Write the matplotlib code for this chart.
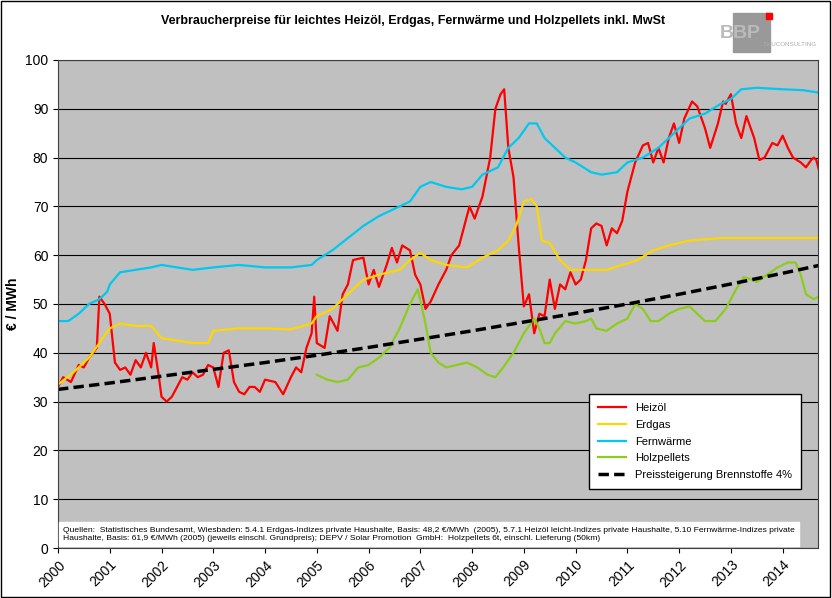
import matplotlib
matplotlib.use("Agg")
import matplotlib.pyplot as plt
from matplotlib.patches import Rectangle

plt.rcParams["font.family"] = "Liberation Sans"

heiz_x = [2000,2000.1,2000.25,2000.4,2000.5,2000.6,2000.75,2000.8,2000.9,2001.0,2001.1,2001.2,2001.3,2001.4,2001.5,2001.6,2001.7,2001.8,2001.85,2001.95,2002.0,2002.1,2002.2,2002.3,2002.4,2002.5,2002.6,2002.7,2002.8,2002.9,2003.0,2003.1,2003.2,2003.3,2003.4,2003.5,2003.6,2003.7,2003.8,2003.9,2004.0,2004.2,2004.35,2004.5,2004.6,2004.7,2004.8,2004.9,2004.95,2005.0,2005.15,2005.25,2005.4,2005.5,2005.6,2005.7,2005.9,2006.0,2006.1,2006.2,2006.35,2006.45,2006.55,2006.65,2006.8,2006.9,2007.0,2007.1,2007.2,2007.35,2007.5,2007.6,2007.75,2007.85,2007.95,2008.05,2008.2,2008.35,2008.45,2008.55,2008.62,2008.7,2008.8,2008.9,2009.0,2009.1,2009.2,2009.3,2009.4,2009.5,2009.6,2009.7,2009.8,2009.9,2010.0,2010.1,2010.2,2010.3,2010.4,2010.5,2010.6,2010.7,2010.8,2010.9,2011.0,2011.15,2011.3,2011.4,2011.5,2011.6,2011.7,2011.8,2011.9,2012.0,2012.1,2012.25,2012.35,2012.5,2012.6,2012.75,2012.85,2012.9,2013.0,2013.1,2013.2,2013.3,2013.45,2013.55,2013.65,2013.8,2013.9,2014.0,2014.1,2014.2,2014.35,2014.45,2014.55,2014.6,2014.65,2014.7]
heiz_y = [33,35,34,37.5,37,39,41,51.5,50,48,38,36.5,37,35.5,38.5,37,40,37,42,35,31,30,31,33,35,34.5,36,35,35.5,37.5,37,33,40,40.5,34,32,31.5,33,33,32,34.5,34,31.5,35,37,36,41,44,51.5,42,41,47.5,44.5,52,54,59,59.5,54,57,53.5,58,61.5,58.5,62,61,56,54,49,50.5,54,57,60,62,66,70,67.5,72,80,90,93,94,82,76,62,49.5,52,44,48,47.5,55,49,54,53,56.5,54,55,59,65.5,66.5,66,62,65.5,64.5,67,73,79,82.5,83,79,82,79,84,87,83,88,91.5,90.5,86,82,87,91.5,91,93,87,84,88.5,84,79.5,80,83,82.5,84.5,82,80,79,78,79.5,80,79.5,77.5]

gas_x = [2000,2000.3,2000.6,2000.8,2001.0,2001.2,2001.5,2001.8,2002.0,2002.3,2002.6,2002.9,2003.0,2003.5,2004.0,2004.5,2004.9,2005.0,2005.3,2005.6,2005.9,2006.2,2006.6,2006.8,2007.0,2007.2,2007.5,2007.9,2008.2,2008.5,2008.7,2008.85,2009.0,2009.15,2009.25,2009.35,2009.5,2009.7,2009.9,2010.3,2010.6,2010.9,2011.2,2011.5,2011.8,2012.2,2012.8,2013.5,2014.7]
gas_y = [33.5,36,39,42,45,46,45.5,45.5,43,42.5,42,42,44.5,45,45,44.8,46,47.5,49,52,55,56,57,59,60.5,59,58,57.5,59.5,61,63,66,71,71.5,70,63,62.5,59,57,57,57,58,59,61,62,63,63.5,63.5,63.5]

fern_x = [2000,2000.2,2000.4,2000.6,2000.8,2000.95,2001.0,2001.2,2001.5,2001.8,2002.0,2002.3,2002.6,2003.0,2003.5,2004.0,2004.5,2004.9,2005.0,2005.3,2005.6,2005.9,2006.2,2006.5,2006.8,2007.0,2007.2,2007.5,2007.8,2008.0,2008.2,2008.5,2008.7,2008.9,2009.1,2009.25,2009.4,2009.6,2009.8,2010.0,2010.3,2010.5,2010.8,2011.0,2011.3,2011.6,2011.9,2012.2,2012.5,2012.8,2013.0,2013.2,2013.5,2014.0,2014.4,2014.7]
fern_y = [46.5,46.5,48,50,51,52.5,54,56.5,57,57.5,58,57.5,57,57.5,58,57.5,57.5,58,59,61,63.5,66,68,69.5,71,74,75,74,73.5,74,76.5,78,82,84,87,87,84,82,80,79,77,76.5,77,79,80,82,85,88,89,91,92,94,94.3,94,93.8,93.3]

holz_x = [2005.0,2005.2,2005.4,2005.6,2005.8,2006.0,2006.2,2006.4,2006.6,2006.8,2006.95,2007.1,2007.2,2007.35,2007.5,2007.7,2007.9,2008.1,2008.3,2008.45,2008.6,2008.8,2009.0,2009.2,2009.3,2009.4,2009.5,2009.6,2009.8,2010.0,2010.2,2010.3,2010.4,2010.6,2010.8,2011.0,2011.15,2011.3,2011.45,2011.6,2011.8,2012.0,2012.2,2012.35,2012.5,2012.7,2012.9,2013.1,2013.25,2013.4,2013.5,2013.7,2013.9,2014.1,2014.25,2014.35,2014.45,2014.6,2014.7]
holz_y = [35.5,34.5,34,34.5,37,37.5,39,41,45,50,53,46,40,38,37,37.5,38,37,35.5,35,37,40,44,47,45,42,42,44,46.5,46,46.5,47,45,44.5,46,47,50,49,46.5,46.5,48,49,49.5,48,46.5,46.5,49,53,55.5,55,54.5,56,57.5,58.5,58.5,56,52,51,51.5]

trend_x = [2000,2001,2002,2003,2004,2005,2006,2007,2008,2009,2010,2011,2012,2013,2014,2014.7]
trend_y = [32.5,33.8,35.2,36.6,38.0,39.5,41.1,42.8,44.5,46.3,48.1,50.0,52.0,54.1,56.3,57.9]

years = list(range(2000, 2015))
year_labels = [str(y) for y in years]

fig = plt.figure(figsize=(8.32, 5.98), dpi=100)
fig.patch.set_facecolor("white")
fig.patches.append(Rectangle((0.001, 0.001), 0.997, 0.997, transform=fig.transFigure,
                             fill=False, edgecolor="black", lw=1))
ax = fig.add_axes([0.0697, 0.0836, 0.9133, 0.8161])
ax.set_facecolor("#c0c0c0")
ax.plot(heiz_x, heiz_y, color="#ff0000", lw=1.6, label="Heizöl")
ax.plot(gas_x, gas_y, color="#ffd700", lw=1.6, label="Erdgas")
ax.plot(fern_x, fern_y, color="#00c8f0", lw=1.6, label="Fernwärme")
ax.plot(holz_x, holz_y, color="#8ccc1e", lw=1.6, label="Holzpellets")
ax.plot(trend_x, trend_y, color="black", lw=2.5, ls=(0, (3, 1.5)), label="Preissteigerung Brennstoffe 4%")
ax.set_xlim(2000, 2014.68)
ax.set_ylim(0, 100)
ax.set_yticks(range(0, 101, 10))
ax.set_xticks(years)
ax.set_xticklabels(year_labels, rotation=45, ha="right", rotation_mode="anchor", fontsize=10)
ax.tick_params(axis="y", labelsize=10)
ax.grid(axis="y", color="black", lw=0.8)
ax.set_axisbelow(True)
ax.set_ylabel("€ / MWh", fontsize=10, fontweight="bold")
for s in ax.spines.values():
    s.set_color("#404040")
leg = ax.legend(loc="lower right", bbox_to_anchor=(0.985, 0.11), fancybox=False,
                edgecolor="black", fontsize=8, framealpha=1, borderpad=0.8, labelspacing=0.6,
                handlelength=2.5)
ax.text(0.007, 0.012, "Quellen:  Statistisches Bundesamt, Wiesbaden: 5.4.1 Erdgas-Indizes private Haushalte, Basis: 48,2 €/MWh  (2005), 5.7.1 Heizöl leicht-Indizes private Haushalte, 5.10 Fernwärme-Indizes private\nHaushalte, Basis: 61,9 €/MWh (2005) (jeweils einschl. Grundpreis); DEPV / Solar Promotion  GmbH:  Holzpellets 6t, einschl. Lieferung (50km)",
        transform=ax.transAxes, fontsize=6.1, va="bottom", ha="left", linespacing=1.3,
        bbox=dict(facecolor="white", edgecolor="white", boxstyle="square,pad=0.5"))
fig.text(0.497, 0.965, "Verbraucherpreise für leichtes Heizöl, Erdgas, Fernwärme und Holzpellets inkl. MwSt",
         ha="center", va="center", fontsize=9, fontweight="bold")
# logo
fig.patches.append(Rectangle((733/832, 1-52/598), 37/832, 39/598, transform=fig.transFigure,
                             color="#999999"))
fig.patches.append(Rectangle((766/832, 1-19/598), 6/832, 6/598, transform=fig.transFigure,
                             color="#ff0000"))
fig.text(720/832, 1-33/598, "BBP", fontsize=14, color="#bbbbbb", ha="left", va="center", fontweight="bold")
fig.text(763/832, 1-45/598, "BAUCONSULTING", fontsize=4.5, color="#aaaaaa", ha="left", va="center")
fig.savefig("out.png", dpi=100)
